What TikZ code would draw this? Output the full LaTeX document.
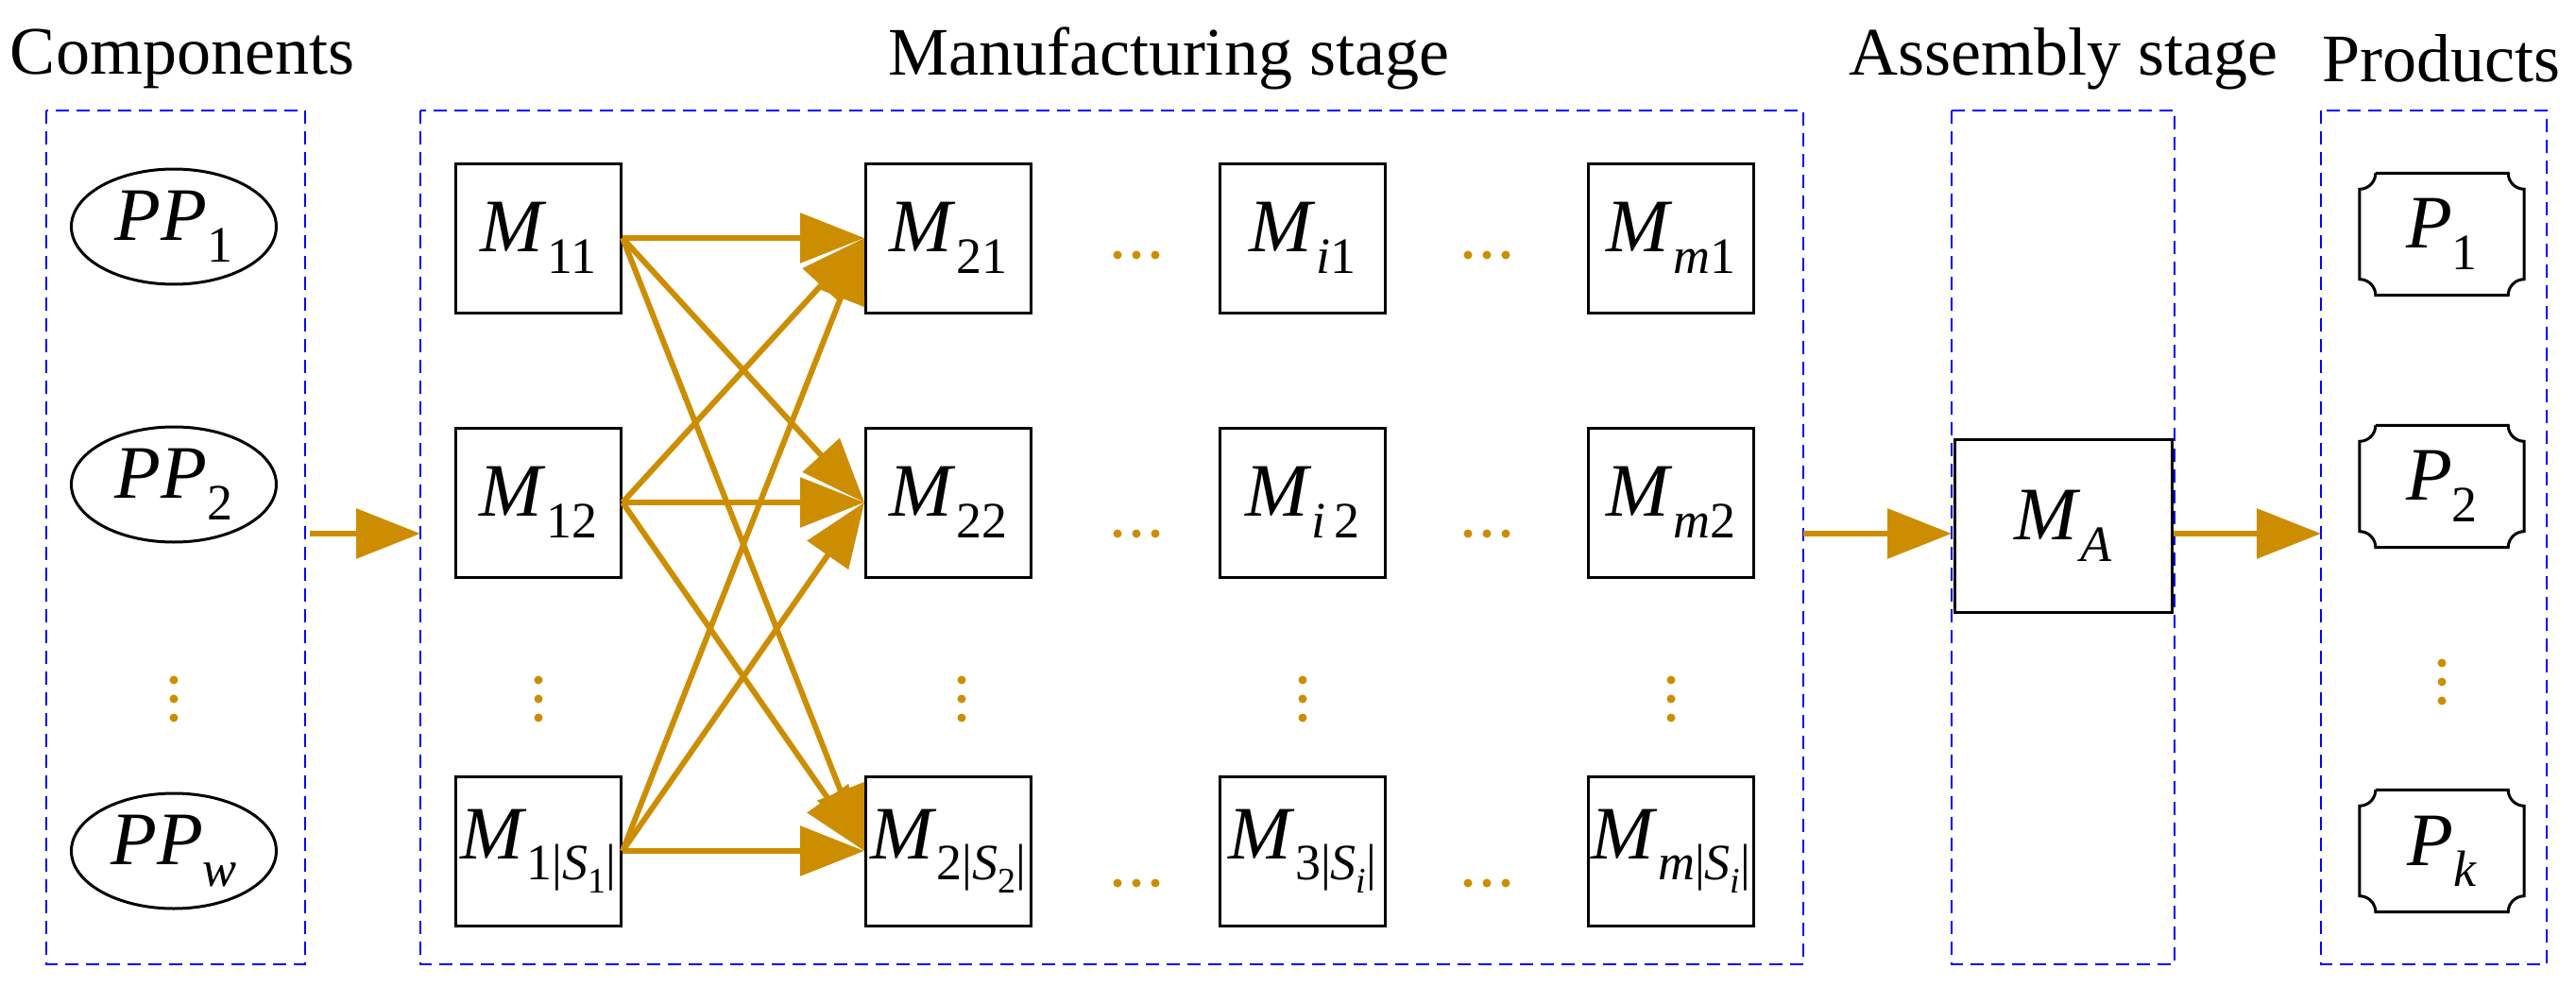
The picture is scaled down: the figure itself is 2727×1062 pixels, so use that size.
\documentclass[tikz,border=0pt]{standalone}
\usepackage{fontspec}
\setmainfont{Liberation Serif}
\usetikzlibrary{arrows.meta,shapes.geometric}
\definecolor{orng}{HTML}{CC8E00}
\definecolor{dblue}{HTML}{0000FF}
\newcommand{\prodframe}[1]{%
  \draw[line width=3pt] ([xshift=17pt]#1.north west) -- ([xshift=-17pt]#1.north east)
    arc[start angle=180,end angle=270,radius=17pt] -- ([yshift=17pt]#1.south east)
    arc[start angle=90,end angle=180,radius=17pt] -- ([xshift=17pt]#1.south west)
    arc[start angle=0,end angle=90,radius=17pt] -- ([yshift=-17pt]#1.north west)
    arc[start angle=-90,end angle=0,radius=17pt];}
\newcommand{\sbs}[2]{\textit{#1}\raisebox{-0.28em}{\fontsize{54}{60}\selectfont #2}}
\newcommand{\ssb}[1]{|\textit{S}\raisebox{-0.25em}{\fontsize{38}{40}\selectfont #1}|}
\newcommand{\vdts}[1]{\foreach \k in {-20,0,20} \fill[orng] ($(#1)+(0,\k)$) circle (4.5pt);}
\newcommand{\hdts}[1]{\foreach \k in {-20,0,20} \fill[orng] ($(#1)+(\k,0)$) circle (4.5pt);}
\usetikzlibrary{calc}
\begin{document}
\begin{tikzpicture}[x=1pt,y=-1pt,
  box/.style={draw,line width=3pt,minimum width=175pt,minimum height=158pt,inner sep=0pt,font=\fontsize{80}{90}\selectfont},
  ell/.style={draw,ellipse,line width=3pt,minimum width=217pt,minimum height=122pt,inner sep=0pt,font=\fontsize{80}{90}\selectfont},
  prod/.style={minimum width=174pt,minimum height=129pt,inner sep=0pt,font=\fontsize{80}{90}\selectfont},
  grp/.style={draw=dblue,line width=2.5pt,dash pattern=on 14pt off 8pt},
  arr/.style={draw=orng,line width=6pt,-{Triangle[length=68pt,width=52pt]}},
  ttl/.style={font=\fontsize{72}{80}\selectfont}]
\useasboundingbox (0,0) rectangle (2727,1062);
% groups
\draw[grp] (49,117) rectangle (323,1021);
\draw[grp] (445,117) rectangle (1909,1021);
\draw[grp] (2066,117) rectangle (2302,1021);
\draw[grp] (2457,117) rectangle (2696,1021);
\node[ttl] (t1) at (193,62) {Components};
\node[ttl] (t2) at (1237,62) {Manufacturing stage};
\node[ttl] (t3) at (2184,62) {Assembly stage};
\node[ttl] (t4) at (2584,62) {Products};
% components
\node[ell] (pp1) at (184,240) {\sbs{PP}{1}};
\node[ell] (pp2) at (184,513) {\sbs{PP}{2}};
\node[ell] (ppw) at (184,901) {\sbs{PP}{\textit{w}}};
\coordinate (d0) at (184,740); \vdts{d0}
% manufacturing
\node[box] (m11) at (570,252) {\sbs{M}{11}};
\node[box] (m12) at (570,532) {\sbs{M}{12}};
\node[box] (m13) at (570,901) {\sbs{M}{1\ssb{1}}};
\node[box] (m21) at (1004,252) {\sbs{M}{21}};
\node[box] (m22) at (1004,532) {\sbs{M}{22}};
\node[box] (m23) at (1004,901) {\sbs{M}{2\ssb{2}}};
\node[box] (mi1) at (1379,252) {\sbs{M}{\textit{i}1}};
\node[box] (mi2) at (1379,532) {\sbs{M}{\textit{i}\,2}};
\node[box] (mi3) at (1379,901) {\sbs{M}{3\ssb{\textit{i}}}};
\node[box] (mm1) at (1769,252) {\sbs{M}{\textit{m}1}};
\node[box] (mm2) at (1769,532) {\sbs{M}{\textit{m}2}};
\node[box] (mm3) at (1769,901) {\sbs{M}{\textit{m}\ssb{\textit{i}}}};
\foreach \c [count=\n] in {570,1018,1379,1769} {\coordinate (v\n) at (\c,740); \vdts{v\n}}
\foreach \r [count=\n] in {270,565,935} {\coordinate (ha\n) at (1203,\r); \hdts{ha\n} \coordinate (hb\n) at (1574,\r); \hdts{hb\n}}
% assembly
\node[box,minimum width=230pt,minimum height=183pt] (ma) at (2184,557) {\sbs{M}{\textit{A}}};
% products
\node[prod] (p1) at (2585,248) {\sbs{P}{1}}; \prodframe{p1}
\node[prod] (p2) at (2585,515) {\sbs{P}{2}}; \prodframe{p2}
\node[prod] (pk) at (2585,901) {\sbs{P}{\textit{k}}}; \prodframe{pk}
\coordinate (dk) at (2585,722); \vdts{dk}
% arrows
\foreach \a in {m11,m12,m13} \foreach \b in {m21,m22,m23} \draw[arr] (\a.east) -- (\b.west);
\coordinate (c1) at (323,565); \coordinate (c2) at (445,565);
\coordinate (c3) at (1909,565); \coordinate (c4) at (2066,565);
\coordinate (c5) at (2457,565);
\draw[arr] ([xshift=5pt]c1) -- (c2);
\draw[arr] (c3) -- (c4);
\draw[arr] (ma.east |- c5) -- (c5);
\end{tikzpicture}
\end{document}
